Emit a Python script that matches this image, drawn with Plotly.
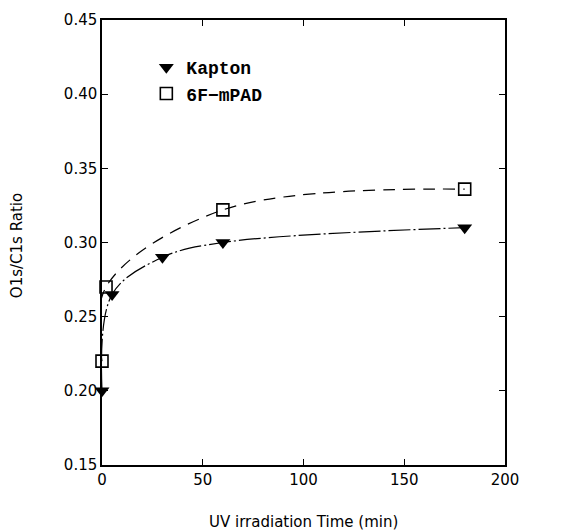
import plotly.graph_objects as go

kapton_t = [0, 5, 30, 60, 180]
kapton_ratio = [0.200, 0.265, 0.290, 0.300, 0.310]
mpad_t = [0, 2, 60, 180]
mpad_ratio = [0.220, 0.270, 0.322, 0.336]

x_ticks = [0, 50, 100, 150, 200]
y_ticks = [0.15, 0.20, 0.25, 0.30, 0.35, 0.40, 0.45]

x_title = "UV irradiation Time (min)"
y_title = "O1s/C1s Ratio"

fig = go.Figure()
fig.add_trace(go.Scatter(
    x=kapton_t, y=kapton_ratio, mode="lines", line=dict(color="black", width=1.2, shape="spline", dash="22px,3px,2px,3px"),
    showlegend=False, hoverinfo="skip", cliponaxis=False))
fig.add_trace(go.Scatter(
    x=mpad_t, y=mpad_ratio, mode="lines", line=dict(color="black", width=1.2, shape="spline", dash="12px,8px"),
    showlegend=False, hoverinfo="skip", cliponaxis=False))
fig.add_trace(go.Scatter(
    x=kapton_t, y=kapton_ratio, mode="markers", name="Kapton", cliponaxis=False,
    marker=dict(symbol="triangle-down", size=13, color="black")))
fig.add_trace(go.Scatter(
    x=mpad_t, y=mpad_ratio, mode="markers", name="6F\u2212mPAD", cliponaxis=False,
    marker=dict(symbol="square-open", size=12, color="black", line=dict(width=1.6, color="black"))))

font_fam = "DejaVu Sans, Verdana, sans-serif"
axis_common = dict(
    showgrid=False, zeroline=False, showline=True, linecolor="black", linewidth=1.5,
    mirror="ticks", ticks="inside", ticklen=6, tickwidth=1.3, tickcolor="black",
    tickfont=dict(family=font_fam, size=15, color="black"), automargin=False,
)

fig.update_layout(
    width=575, height=531,
    margin=dict(l=102, r=70, t=20, b=66),
    plot_bgcolor="white", paper_bgcolor="white",
    xaxis=dict(range=[0, 200], tickvals=x_ticks, ticktext=[str(v) for v in x_ticks], **axis_common),
    yaxis=dict(range=[0.15, 0.45], tickvals=y_ticks, ticktext=[f"{v:.2f}" for v in y_ticks], **axis_common),
    legend=dict(x=0.11, y=0.935, xanchor="left", yanchor="top", bgcolor="rgba(0,0,0,0)",
                font=dict(family="Liberation Mono, Courier New, monospace", size=18, color="black", weight="bold"),
                itemwidth=30, tracegroupgap=2),
    annotations=[
        dict(text=x_title, xref="paper", yref="paper", x=0.5, y=-0.128, xanchor="center", yanchor="middle",
             showarrow=False, font=dict(family=font_fam, size=15, color="black")),
        dict(text=y_title, xref="paper", yref="paper", x=-0.211, y=0.494, xanchor="center", yanchor="middle",
             textangle=-90, showarrow=False, font=dict(family=font_fam, size=15, color="black")),
    ],
)

fig.write_html("out.html")
